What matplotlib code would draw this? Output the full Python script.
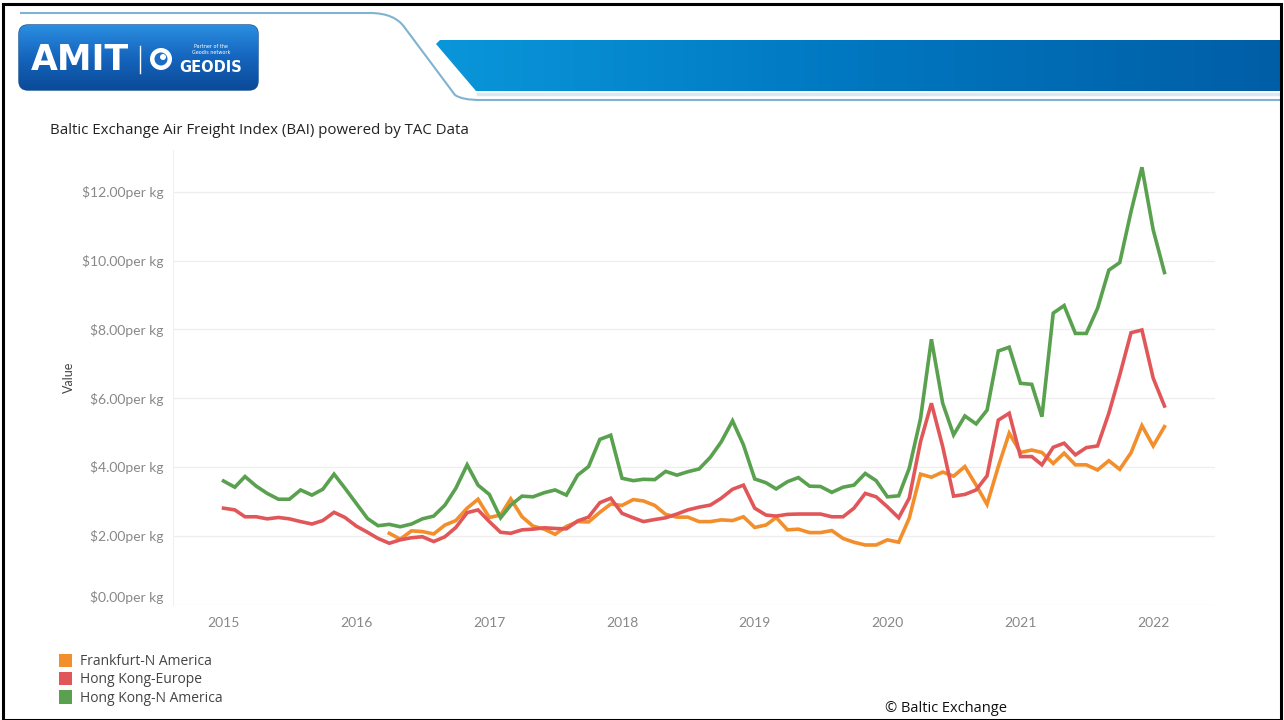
import numpy as np
import pandas as pd
import matplotlib
matplotlib.use("Agg")
import matplotlib.pyplot as plt
from matplotlib.patches import FancyBboxPatch, Polygon, Patch, Circle, Rectangle
from matplotlib.path import Path
from matplotlib.patches import PathPatch

# monthly BAI values, Jan 2015 .. Feb 2022 (USD per kg)
months = pd.date_range("2015-01-01", periods=86, freq="MS")

frankfurt_n_america = [np.nan] * 15 + [
    2.07, 1.90, 2.14, 2.12, 2.05, 2.31, 2.44, 2.80, 3.06, 2.53,
    2.60, 3.07, 2.55, 2.28, 2.19, 2.04, 2.27, 2.41, 2.40, 2.68,
    2.92, 2.88, 3.05, 3.01, 2.88, 2.62, 2.54, 2.54, 2.41, 2.41,
    2.46, 2.44, 2.55, 2.24, 2.31, 2.53, 2.17, 2.19, 2.09, 2.09,
    2.15, 1.92, 1.81, 1.73, 1.73, 1.88, 1.81, 2.51, 3.79, 3.70,
    3.85, 3.73, 4.01, 3.47, 2.91, 4.01, 4.98, 4.42, 4.49, 4.42,
    4.10, 4.40, 4.06, 4.06, 3.91, 4.18, 3.93, 4.41, 5.20, 4.61, 5.17,
]

hong_kong_europe = [
    2.80, 2.75, 2.55, 2.55, 2.49, 2.53, 2.49, 2.41, 2.34, 2.44,
    2.68, 2.53, 2.28, 2.10, 1.92, 1.78, 1.88, 1.94, 1.97, 1.83,
    1.97, 2.24, 2.67, 2.75, 2.41, 2.10, 2.07, 2.17, 2.19, 2.23,
    2.21, 2.20, 2.43, 2.54, 2.96, 3.09, 2.65, 2.52, 2.41, 2.47,
    2.52, 2.63, 2.75, 2.83, 2.89, 3.09, 3.35, 3.47, 2.80, 2.60,
    2.57, 2.62, 2.63, 2.63, 2.63, 2.55, 2.55, 2.80, 3.23, 3.13,
    2.84, 2.52, 3.09, 4.73, 5.85, 4.59, 3.15, 3.20, 3.33, 3.74,
    5.36, 5.56, 4.30, 4.30, 4.06, 4.57, 4.69, 4.35, 4.56, 4.61,
    5.56, 6.67, 7.90, 7.98, 6.58, 5.77,
]

hong_kong_n_america = [
    3.59, 3.41, 3.72, 3.44, 3.23, 3.06, 3.06, 3.33, 3.18, 3.35,
    3.79, 3.38, 2.94, 2.50, 2.29, 2.33, 2.26, 2.34, 2.49, 2.57,
    2.89, 3.38, 4.06, 3.47, 3.20, 2.52, 2.89, 3.15, 3.13, 3.25,
    3.33, 3.18, 3.76, 4.01, 4.80, 4.92, 3.67, 3.60, 3.64, 3.63,
    3.87, 3.76, 3.86, 3.94, 4.28, 4.73, 5.34, 4.64, 3.65, 3.54,
    3.36, 3.57, 3.69, 3.44, 3.43, 3.26, 3.41, 3.47, 3.81, 3.60,
    3.13, 3.16, 3.96, 5.40, 7.71, 5.85, 4.93, 5.48, 5.25, 5.65,
    7.37, 7.48, 6.43, 6.40, 5.46, 8.47, 8.69, 7.88, 7.88, 8.61,
    9.72, 9.94, 11.42, 12.71, 10.89, 9.65,
]

series_names = ["Frankfurt-N America", "Hong Kong-Europe", "Hong Kong-N America"]
series_colors = ["#F28E2B", "#E15759", "#59A14F"]
y_ticks = [0, 2, 4, 6, 8, 10, 12]
year_ticks = list(range(2015, 2023))

W, H = 1284, 720
fig = plt.figure(figsize=(W / 100, H / 100), dpi=100)

# background layer in pixel coordinates for the header and frame
bg = fig.add_axes([0, 0, 1, 1], zorder=0)
bg.axis("off")

# header band with gradient
band = Polygon([(440, 40), (1280, 40), (1280, 91), (476, 91), (436, 44)],
               closed=True, facecolor="none", edgecolor="none")
bg.add_patch(band)
grad = np.linspace(0, 1, 256).reshape(1, -1)
cmap_band = matplotlib.colors.LinearSegmentedColormap.from_list("b", ["#0a96da", "#0077c0", "#005ea6"])
im = bg.imshow(grad, extent=[436, 1280, 91, 40], cmap=cmap_band, aspect="auto", zorder=1)
im.set_clip_path(band)
bg.plot([478, 1280], [93.5, 93.5], color="#d6e9f5", lw=2.5, zorder=1)

# thin outline curve of the header
verts = [(20, 13), (370, 13), (395, 13), (405, 28), (455, 95), (462, 100), (480, 100), (1280, 100)]
codes = [Path.MOVETO, Path.LINETO, Path.CURVE3, Path.CURVE3, Path.LINETO, Path.CURVE3, Path.CURVE3, Path.LINETO]
bg.add_patch(PathPatch(Path(verts, codes), facecolor="none", edgecolor="#7fb3cf", lw=1.5, zorder=2))

# logo box
logo = FancyBboxPatch((19, 25), 239, 65, boxstyle="round,pad=0,rounding_size=9",
                      facecolor="none", edgecolor="#0d4f96", lw=1)
bg.add_patch(logo)
grad2 = np.linspace(0, 1, 256).reshape(-1, 1)
cmap_logo = matplotlib.colors.LinearSegmentedColormap.from_list("l", ["#2b8ee0", "#1565bd", "#0b4a98"])
im2 = bg.imshow(grad2, extent=[19, 258, 90, 25], cmap=cmap_logo, aspect="auto", zorder=1)
im2.set_clip_path(logo)
bg.text(31, 60, "AMIT", color="white", fontsize=25, fontweight="bold",
        family="DejaVu Sans", va="center", ha="left", zorder=3)
bg.plot([140, 140], [46, 73], color="white", lw=1, zorder=3)
bg.add_patch(Circle((161, 59), 11, facecolor="white", edgecolor="none", zorder=3))
bg.add_patch(Circle((161, 59), 6.5, facecolor="#1a6cc4", edgecolor="none", zorder=3))
bg.add_patch(Circle((163, 57), 3, facecolor="white", edgecolor="none", zorder=3))
bg.text(211, 46, "Partner of the", color="white", fontsize=3.5, ha="center", va="center", zorder=3)
bg.text(211, 52, "Geodis network", color="white", fontsize=3.5, ha="center", va="center", zorder=3)
bg.text(211, 67, "GEODIS", color="white", fontsize=10.5, fontweight="bold", ha="center", va="center", zorder=3)

# outer frame
bg.add_patch(Rectangle((3, 4), 1278, 716, facecolor="none", edgecolor="black", lw=2.2, zorder=5))

bg.text(50, 130, "Baltic Exchange Air Freight Index (BAI) powered by TAC Data",
        fontsize=10.8, family="Open Sans", color="#222222", va="center", ha="left")
bg.text(885, 708, "\u00a9 Baltic Exchange", fontsize=10.5, family="Open Sans",
        color="#111111", va="center", ha="left")
bg.set_xlim(0, W)
bg.set_ylim(H, 0)

# main chart
left, right, top, bottom = 173, 1215, 150, 604.5
ax = fig.add_axes([left / W, 1 - bottom / H, (right - left) / W, (bottom - top) / H], zorder=2)
ax.patch.set_alpha(0)

for vals, name, col in zip([frankfurt_n_america, hong_kong_europe, hong_kong_n_america],
                           series_names, series_colors):
    ax.plot(months, vals, color=col, lw=2.6, label=name, solid_joinstyle="miter")

ax.set_ylim(0, (bottom - top) / 34.4)
ax.set_xlim(pd.Timestamp("2014-08-15"), pd.Timestamp("2022-06-20"))
ax.set_yticks(y_ticks)
ax.set_yticklabels([f"${v:.2f}per kg" for v in y_ticks])
ax.set_xticks([pd.Timestamp(f"{y}-01-01") for y in year_ticks])
ax.set_xticklabels([str(y) for y in year_ticks])
ax.grid(axis="y", color="#eeeeee", lw=0.9)
ax.set_axisbelow(True)
for s in ["top", "right", "bottom"]:
    ax.spines[s].set_visible(False)
ax.spines["left"].set_color("#f0f0f0")
ax.tick_params(axis="both", length=0, colors="#888888", labelsize=10)
ax.tick_params(axis="y", pad=7)
ax.tick_params(axis="x", pad=9)
for lab in ax.get_xticklabels() + ax.get_yticklabels():
    lab.set_family("Lato")
# bottom label sits a little above its grid line in the original
ax.get_yticklabels()[0].set_verticalalignment("bottom")
ax.set_ylabel("Value", fontsize=9, color="#444444", family="Lato", labelpad=5)

handles = [Patch(facecolor=c, edgecolor="none") for c in series_colors]
fig.legend(handles, series_names, loc="upper left", bbox_to_anchor=(53 / W, 1 - 648 / H),
           frameon=False, handlelength=1.0, handleheight=1.1,
           handletextpad=0.55, labelspacing=0.22, borderaxespad=0,
           prop={"family": "Open Sans", "size": 10}, labelcolor="#444444")

fig.savefig("out.png", dpi=100)
